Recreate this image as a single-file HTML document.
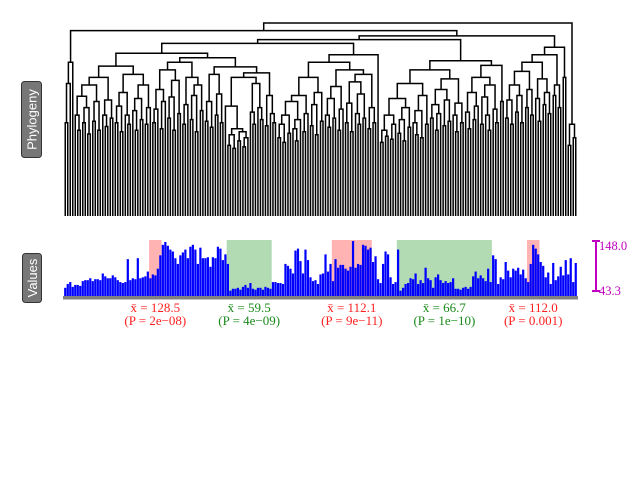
<!DOCTYPE html>
<html><head><meta charset="utf-8"><style>
html,body{margin:0;padding:0;background:#fff;}
svg{display:block;}
text{font-family:"Liberation Serif",serif;}
</style></head><body>
<svg id="chart" width="640" height="480" viewBox="0 0 640 480">
<g id="regions"></g>
<g id="tree"></g>
<g id="bars"></g>
<rect x="63" y="296" width="515" height="3.5" fill="#808080"/>
<g id="labels"></g>
<g>
<rect x="21.5" y="81.5" width="20" height="76" rx="3" fill="#777" stroke="#333" stroke-width="1"/>
<text x="0" y="0" transform="translate(36.5,119.5) rotate(-90)" text-anchor="middle" fill="#fff" font-size="13" style="font-family:'Liberation Sans',sans-serif">Phylogeny</text>
</g>
<g>
<rect x="22.5" y="253.5" width="19" height="49" rx="3" fill="#777" stroke="#333" stroke-width="1"/>
<text x="0" y="0" transform="translate(37,278) rotate(-90)" text-anchor="middle" fill="#fff" font-size="13" style="font-family:'Liberation Sans',sans-serif">Values</text>
</g>
<g stroke="#c000c0" stroke-width="2">
<line x1="596" y1="241" x2="596" y2="291"/>
<line x1="592" y1="241" x2="600" y2="241"/>
<line x1="592" y1="291" x2="600" y2="291"/>
</g>
<text id="scaleMax" x="599" y="250" fill="#c000c0" font-size="12.5"></text>
<text id="scaleMin" x="599" y="295" fill="#c000c0" font-size="12.5"></text>
</svg>
<script>
const values = [50,58,62,52,56,56,54,64,66,66,70,64,68,
68,66,80,74,70,70,76,72,66,62,60,62,110,66,
70,68,112,70,72,74,
84,70,78,76,90,118,
140,146,138,130,126,112,100,118,124,130,112,136,140,
130,100,134,112,112,114,94,114,112,136,132,108,120,100,
44,48,48,50,46,52,56,50,60,48,46,50,50,46,52,50,48,
62,62,60,60,58,
100,96,90,80,128,132,106,80,130,108,72,64,66,58,78,
80,120,84,100,64,
110,92,98,98,90,86,94,148,92,100,98,140,138,130,134,104,
116,68,60,100,126,120,72,58,62,130,
44,50,58,60,70,68,80,58,66,60,92,70,66,50,72,78,66,60,64,60,62,70,48,48,46,50,52,48,52,74,84,70,76,70,64,90,62,
118,110,58,72,68,104,86,72,90,86,92,78,88,70,62,100,140,132,120,104,96,72,82,58,102,66,74,94,76,108,78,112,62,102];
const joinHeights = [60,112,140,182,
70,50,95,60,80,45,110,62,88,50,120,70,55,90,66,135,60,82,48,100,70,58,124,76,50,92,64,110,58,80,
152,
60,78,104,52,88,130,66,94,50,116,72,140,58,84,120,64,96,48,110,76,146,62,88,54,124,70,98,60,134,82,30,44,26,52,36,48,28,40,120,74,58,112,80,64,126,56,96,72,60,
165,
40,58,34,70,46,88,52,36,64,96,48,72,120,56,84,44,100,62,140,70,54,92,66,108,50,78,130,60,86,48,114,72,58,98,66,124,52,80,60,150,
170,
34,50,42,70,38,58,92,46,64,36,80,54,112,60,44,76,40,96,58,130,66,84,50,72,104,56,90,62,118,70,48,86,60,142,74,52,100,64,82,120,58,94,70,50,110,78,60,136,88,
175,
66,90,58,110,74,96,60,128,80,104,70,140,92,62,118,84,100,72,150,96,110,80,160,120,
192,
30,58,40,90,70,120,100];
const regionStart = [34,65,107,133,185];
const regionEnd = [38,82,122,170,189];
const regionKind = ["high","low","high","low","high"];
const regionMean = ["128.5","59.5","112.1","66.7","112.0"];
const regionP = ["2e\u221208","4e\u221209","9e\u221211","1e\u221210","0.001"];
const scaleTicks = [148.0, 43.3];

const NS="http://www.w3.org/2000/svg";
const X0=64, X1=577, N=values.length, BW=(X1-X0)/N;
const xLeaf=i=>X0+BW*(i+0.5);
const yVal=v=>291-(v-43.3)*50/104.7;
const yTree=h=>216-(48+h*0.755);
const BASE=297;
function mk(tag,attrs,parent){const e=document.createElementNS(NS,tag);for(const k in attrs)e.setAttribute(k,attrs[k]);parent.appendChild(e);return e;}

const rg=document.getElementById('regions');
for(let r=0;r<regionStart.length;r++){
  const x=X0+BW*regionStart[r], w=BW*(regionEnd[r]-regionStart[r]+1);
  const e=mk('rect',{x:x,y:240,width:w,height:BASE-240,fill:regionKind[r]==='high'?'#ffb3b3':'#b3dbb3'},rg);
  
  
}
const bg=document.getElementById('bars');
for(let i=0;i<N;i++){
  const y=yVal(values[i]);
  const e=mk('rect',{x:X0+BW*i+0.15,y:y,width:BW-0.3,height:BASE-y,fill:'#0000ff'},bg);
  
  
}
const tg=document.getElementById('tree');
function build(a,b){
  if(a===b) return {x:xLeaf(a),h:-1};
  let k=a,m=-1;
  for(let i=a;i<b;i++) if(joinHeights[i]>m){m=joinHeights[i];k=i;}
  const L=build(a,k),R=build(k+1,b);
  const y=yTree(m);
  const yl=L.h<0?216:yTree(L.h), yr=R.h<0?216:yTree(R.h);
  const p=mk('path',{d:`M${L.x},${yl}V${y}H${R.x}V${yr}`,fill:'none',stroke:'#000','stroke-width':1.5},tg);
  
  
  return {x:(L.x+R.x)/2,h:m};
}
build(0,N-1);
const lg=document.getElementById('labels');
for(let r=0;r<regionStart.length;r++){
  const cx=X0+BW*(regionStart[r]+regionEnd[r]+1)/2;
  const col=regionKind[r]==='high'?'#ff2020':'#1a8a1a';
  const t1=mk('text',{x:cx,y:312,'text-anchor':'middle','font-size':'13',fill:col},lg);
  t1.textContent='x\u0304 = '+regionMean[r];
  
  
  const t2=mk('text',{x:cx,y:325,'text-anchor':'middle','font-size':'13',fill:col},lg);
  t2.textContent='(P = '+regionP[r]+')';
  
  
}
document.getElementById('scaleMax').textContent=scaleTicks[0].toFixed(1);
document.getElementById('scaleMin').textContent=scaleTicks[1].toFixed(1);
</script>
</body></html>
